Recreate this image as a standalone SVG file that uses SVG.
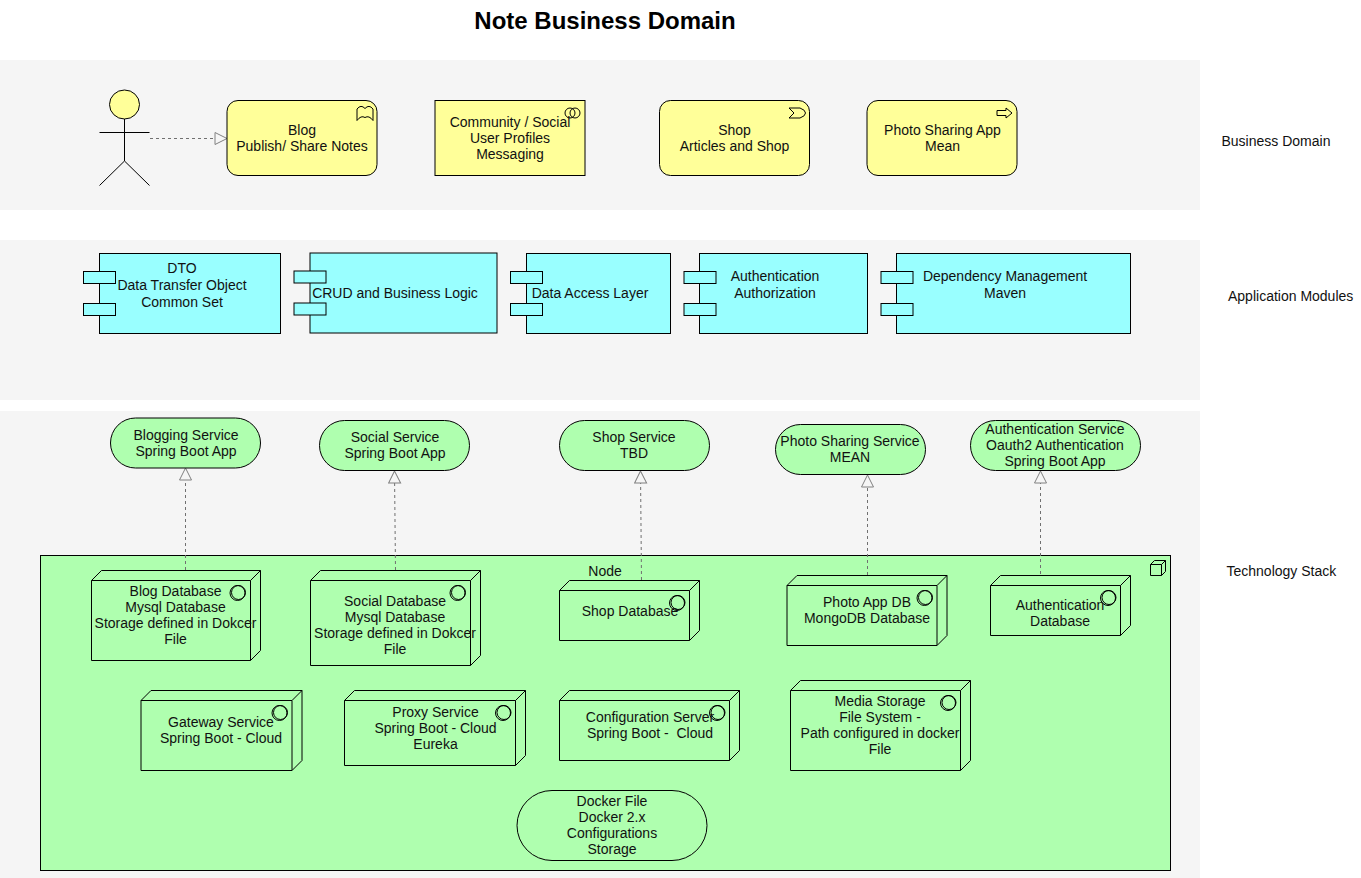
<svg xmlns="http://www.w3.org/2000/svg" width="1361" height="878" viewBox="0 0 1361 878">
<style>
text{font-family:"Liberation Sans",Arial,Helvetica,sans-serif;font-size:14px;fill:#111;text-anchor:middle}
.title{font-size:24px;font-weight:bold;fill:#000}
.lbl{text-anchor:start}
.band{fill:#f5f5f5}
.biz{fill:#ffff99;stroke:#000;stroke-width:1}
.app{fill:#99ffff;stroke:#000;stroke-width:1}
.tec{fill:#afffaf;stroke:#000;stroke-width:1}
.ico{fill:none;stroke:#000;stroke-width:1}
.dash{fill:none;stroke:#707070;stroke-width:1;stroke-dasharray:3 3}
</style>
<defs>
<marker id="tri" viewBox="0 0 14 14" refX="13" refY="7" markerWidth="14" markerHeight="14" markerUnits="userSpaceOnUse" orient="auto">
<path d="M1 1L13 7L1 13Z" fill="#f5f5f5" stroke="#808080" stroke-width="1"/>
</marker>
</defs>
<rect class="band" x="0" y="60" width="1200" height="150"/>
<rect class="band" x="0" y="240" width="1200" height="160"/>
<rect class="band" x="0" y="411" width="1200" height="467"/>
<text class="title" x="605" y="29">Note Business Domain</text>
<text class="lbl" x="1221.500" y="146">Business Domain</text>
<text class="lbl" x="1228" y="301">Application Modules</text>
<text class="lbl" x="1226.500" y="576">Technology Stack</text>

<g id="node-area">
<rect class="tec" x="40.500" y="555.500" width="1130" height="315"/>
<path class="ico" d="M1150.500 564.500h11v11h-11zM1150.500 564.500l4-4h11v11l-4 4M1161.500 564.500l4-4"/>
<text x="605" y="576">Node</text>
</g>

<g id="connectors">
<path class="dash" d="M150 138.500H227" marker-end="url(#tri)"/>
<path class="dash" d="M185.500 570L185.500 468" marker-end="url(#tri)"/>
<path class="dash" d="M395.500 570L394.500 471" marker-end="url(#tri)"/>
<path class="dash" d="M641.500 580L640.500 471" marker-end="url(#tri)"/>
<path class="dash" d="M867.500 575L867.500 475" marker-end="url(#tri)"/>
<path class="dash" d="M1040.500 580L1040.500 471" marker-end="url(#tri)"/>
</g>

<g id="actor">
<ellipse class="biz" cx="124.500" cy="104.500" rx="15" ry="14.500"/>
<path class="ico" d="M124.500 119V161M99.500 132.500H149.500M99.500 185.500L124.500 161L149.500 185.500"/>
</g>

<g id="blog">
<rect class="biz" x="227" y="100.500" width="150" height="75" rx="11"/>
<path class="ico" d="M357 109Q361 104 365 108.500Q369 104 373 109V120.500Q369 115 365 117.500Q361 115 357 120.500Z"/>
<text x="302" y="135">Blog</text><text x="302" y="151">Publish/ Share Notes</text>
</g>
<g id="community">
<rect class="biz" x="435" y="100.500" width="150" height="75"/>
<circle class="ico" cx="570" cy="113" r="5"/><circle class="ico" cx="575" cy="113" r="5"/>
<text x="510" y="127">Community / Social</text><text x="510" y="143">User Profiles</text><text x="510" y="159">Messaging</text>
</g>
<g id="shop">
<rect class="biz" x="659.500" y="100.500" width="150" height="75" rx="11"/>
<path class="ico" d="M789 108H800Q805.500 110 805.500 113Q805.500 116 800 118H789L794 113Z"/>
<text x="734.500" y="135">Shop</text><text x="734.500" y="151">Articles and Shop</text>
</g>
<g id="photo-app">
<rect class="biz" x="867" y="100.500" width="150" height="75" rx="11"/>
<path class="ico" d="M997 110.500H1006V108L1012 113L1006 118V115.500H997Z"/>
<text x="942.500" y="135">Photo Sharing App</text><text x="942.500" y="151">Mean</text>
</g>

<g id="dto">
<rect class="app" x="99.500" y="253.500" width="181" height="80"/>
<rect class="app" x="83.500" y="271.500" width="32" height="12"/><rect class="app" x="83.500" y="303.500" width="32" height="12"/>
<text x="182" y="273">DTO</text><text x="182" y="290">Data Transfer Object</text><text x="182" y="307">Common Set</text>
</g>
<g id="crud">
<rect class="app" x="310" y="253" width="187" height="80" stroke-width="1.500"/>
<rect class="app" x="294" y="271" width="32" height="12"/><rect class="app" x="294" y="303" width="32" height="12"/>
<text x="395" y="298">CRUD and Business Logic</text>
</g>
<g id="dal">
<rect class="app" x="526.500" y="253.500" width="144" height="80"/>
<rect class="app" x="510.500" y="271.500" width="32" height="12"/><rect class="app" x="510.500" y="303.500" width="32" height="12"/>
<text x="590" y="298">Data Access Layer</text>
</g>
<g id="auth-module">
<rect class="app" x="699.500" y="253.500" width="168" height="80"/>
<rect class="app" x="684" y="271.500" width="32" height="12"/><rect class="app" x="684" y="303.500" width="32" height="12"/>
<text x="775" y="281">Authentication</text><text x="775" y="298">Authorization</text>
</g>
<g id="dependency">
<rect class="app" x="896.500" y="253.500" width="234" height="80"/>
<rect class="app" x="881" y="271.500" width="32" height="12"/><rect class="app" x="881" y="303.500" width="32" height="12"/>
<text x="1005" y="281">Dependency Management</text><text x="1005" y="298">Maven</text>
</g>

<g id="blogging-service">
<rect class="tec" x="110.500" y="418" width="150" height="50" rx="25"/>
<text x="186" y="440">Blogging Service</text><text x="186" y="456">Spring Boot App</text>
</g>
<g id="social-service">
<rect class="tec" x="319.500" y="420.500" width="150" height="50" rx="25"/>
<text x="395" y="442">Social Service</text><text x="395" y="458">Spring Boot App</text>
</g>
<g id="shop-service">
<rect class="tec" x="559.500" y="420.500" width="150" height="50" rx="25"/>
<text x="634" y="442">Shop Service</text><text x="634" y="458">TBD</text>
</g>
<g id="photo-service">
<rect class="tec" x="775.500" y="424.500" width="150" height="50" rx="25"/>
<text x="850" y="446">Photo Sharing Service</text><text x="850" y="462">MEAN</text>
</g>
<g id="auth-service">
<rect class="tec" x="970.500" y="420.500" width="170" height="50" rx="25"/>
<text x="1055" y="434">Authentication Service</text><text x="1055" y="450">Oauth2 Authentication</text><text x="1055" y="466">Spring Boot App</text>
</g>

<g id="blog-db">
<path class="tec" d="M91.500 580.500l10-10h159v80l-10 10h-159zM91.500 580.500h159l10-10M250.500 580.500v80"/>
<circle class="ico" cx="237.500" cy="593" r="7.500"/><circle class="ico" cx="238.500" cy="592.500" r="7"/>
<text x="175.500" y="596">Blog Database</text><text x="175.500" y="612">Mysql Database</text><text x="175.500" y="628">Storage defined in Dokcer</text><text x="175.500" y="644">File</text>
</g>
<g id="social-db">
<path class="tec" d="M310.500 580.500l10-10h160v85l-10 10h-160zM310.500 580.500h160l10-10M470.500 580.500v85"/>
<circle class="ico" cx="457.500" cy="593" r="7.500"/><circle class="ico" cx="458.500" cy="592.500" r="7"/>
<text x="395" y="606">Social Database</text><text x="395" y="622">Mysql Database</text><text x="395" y="638">Storage defined in Dokcer</text><text x="395" y="654">File</text>
</g>
<g id="shop-db">
<path class="tec" d="M559.500 590.500l10-10h130v50l-10 10h-130zM559.500 590.500h130l10-10M689.500 590.500v50"/>
<circle class="ico" cx="677" cy="603" r="7.500"/><circle class="ico" cx="678" cy="602.500" r="7"/>
<text x="630" y="616">Shop Database</text>
</g>
<g id="photo-db">
<path class="tec" d="M787 585.500l10-10h150v60l-10 10h-150zM787 585.500h150l10-10M937 585.500v60"/>
<circle class="ico" cx="924.500" cy="598" r="7.500"/><circle class="ico" cx="925.500" cy="597.500" r="7"/>
<text x="867" y="607">Photo App DB</text><text x="867" y="623">MongoDB Database</text>
</g>
<g id="auth-db">
<path class="tec" d="M990.500 585.500l10-10h130v50l-10 10h-130zM990.500 585.500h130l10-10M1120.500 585.500v50"/>
<circle class="ico" cx="1108" cy="598" r="7.500"/><circle class="ico" cx="1109" cy="597.500" r="7"/>
<text x="1060" y="610">Authentication</text><text x="1060" y="626">Database</text>
</g>
<g id="gateway">
<path class="tec" d="M141 700.500l10-10h151v70l-10 10h-151zM141 700.500h151l10-10M292 700.500v70" stroke-width="1.300"/>
<circle class="ico" cx="279.500" cy="713" r="7.500"/><circle class="ico" cx="280.500" cy="712.500" r="7"/>
<text x="221" y="727">Gateway Service</text><text x="221" y="743">Spring Boot - Cloud</text>
</g>
<g id="proxy">
<path class="tec" d="M344.500 700.500l10-10h171v65l-10 10h-171zM344.500 700.500h171l10-10M515.500 700.500v65"/>
<circle class="ico" cx="503" cy="713" r="7.500"/><circle class="ico" cx="504" cy="712.500" r="7"/>
<text x="435.500" y="717">Proxy Service</text><text x="435.500" y="733">Spring Boot - Cloud</text><text x="435.500" y="749">Eureka</text>
</g>
<g id="config">
<path class="tec" d="M559.500 700.500l10-10h170v60l-10 10h-170zM559.500 700.500h170l10-10M729.500 700.500v60"/>
<circle class="ico" cx="717" cy="713" r="7.500"/><circle class="ico" cx="718" cy="712.500" r="7"/>
<text x="650" y="722">Configuration Server</text><text x="650" y="738">Spring Boot -&#160; Cloud</text>
</g>
<g id="media">
<path class="tec" d="M790.500 690.500l10-10h170v80l-10 10h-170zM790.500 690.500h170l10-10M960.500 690.500v80"/>
<circle class="ico" cx="948" cy="703" r="7.500"/><circle class="ico" cx="949" cy="702.500" r="7"/>
<text x="880" y="706">Media Storage</text><text x="880" y="722">File System -</text><text x="880" y="738">Path configured in docker</text><text x="880" y="754">File</text>
</g>
<g id="docker">
<rect class="tec" x="517" y="790.500" width="190" height="70" rx="35"/>
<text x="612" y="806">Docker File</text><text x="612" y="822">Docker 2.x</text><text x="612" y="838">Configurations</text><text x="612" y="854">Storage</text>
</g>
</svg>
